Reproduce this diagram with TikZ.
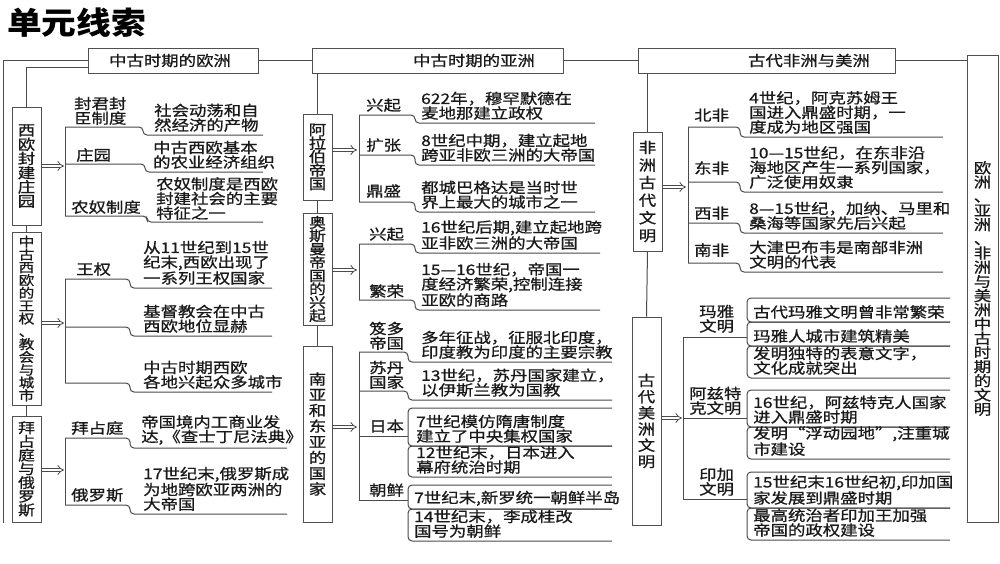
\documentclass[tikz,border=0pt]{standalone}
\usepackage{fontspec}
\setmainfont{Noto Sans CJK SC}[FakeStretch=1.2, FakeBold=0.9]
\newfontfamily\titlefont{Noto Sans CJK SC}[FakeStretch=1.12]
\usetikzlibrary{arrows.meta}
\definecolor{linegray}{HTML}{4A4A4A}
\definecolor{boxgray}{HTML}{505050}
\definecolor{inkgray}{HTML}{1A1A1A}
\tikzset{
    link/.style={draw=linegray, line width=1pt},
    bracket/.style={link, rounded corners=4pt},
    colbox/.style 2 args={draw=boxgray, fill=white, line width=1pt, minimum width=29pt, inner sep=0pt, align=center, text=inkgray, font=\fontsize{#1}{#2}\selectfont},
    titlebox/.style={draw=boxgray, fill=white, line width=1pt, minimum height=25pt, inner sep=0pt},
    titletext/.style={inner sep=0pt, text=inkgray, font=\fontsize{14.5}{15}\selectfont},
    itemlbl/.style={anchor=south west, inner sep=1pt, align=left, text=inkgray, font=\fontsize{14.5}{14.6}\selectfont},
    itemtxt/.style={itemlbl},
    dblarrow/.style={draw=linegray, double=white, double distance=2.6pt, line width=0.8pt, -{Implies}}
}

\begin{document}
\begin{tikzpicture}[x=1pt, y=-1pt]
        \useasboundingbox (0,0) rectangle (1000,563);

        % -----------------------------------------------------------------
        % TITOLO E RIGHE DI TESTA
        % -----------------------------------------------------------------
        \node[anchor=west, inner sep=0pt, text=black, font=\titlefont\bfseries\fontsize{31}{31}\selectfont] (title) at (7,23) {单元线索};

        \node[titlebox, minimum width=170pt] (euT) at (173,60.5) {};
        \node[titletext] (euTt) at (170,60.5) {中古时期的欧洲};
        \node[titlebox, minimum width=251pt] (asT) at (437.5,60.5) {};
        \node[titletext] (asTt) at (474,60.5) {中古时期的亚洲};
        \node[titlebox, minimum width=257pt] (afT) at (766.5,60.5) {};
        \node[titletext] (afTt) at (809,60.5) {古代非洲与美洲};

        \node[colbox={14.5}{14.2}, minimum width=31pt, minimum height=467pt] (endB) at (982.5,288.5) {欧\\洲\\、\\亚\\洲\\、\\非\\洲\\与\\美\\洲\\中\\古\\时\\期\\的\\文\\明};

        \draw[link] (3,523) -- (3,60.5) -- (euT.west);
        \draw[link] (euT.east) -- (asT.west);
        \draw[link] (asT.east) -- (afT.west);
        \draw[link] (afT.east) -- (afT.east -| endB.west);

        % -----------------------------------------------------------------
        % EUROPA
        % -----------------------------------------------------------------
        \node[colbox={14.5}{14.2}, minimum height=118pt] (euA) at (26.5,166) {西\\欧\\封\\建\\庄\\园};
        \node[colbox={13}{12.8}, minimum height=173pt] (euB) at (26.5,318.5) {中\\古\\西\\欧\\的\\王\\权\\、\\教\\会\\与\\城\\市};
        \node[colbox={14}{13.7}, minimum height=106pt] (euC) at (26.5,469) {拜\\占\\庭\\与\\俄\\罗\\斯};

        \draw[link] (euT.west) ++(0,6.5) -| (euA.north);
        \draw[link] (euA.south) -- (euB.north);
        \draw[link] (euB.south) -- (euC.north);

        \coordinate (euAk) at (64,166);
        \coordinate (euBk) at (64,323);
        \coordinate (euCk) at (64,470);
        \draw[dblarrow] (euA.east |- euAk) -- (euAk);
        \draw[dblarrow] (euB.east |- euBk) -- (euBk);
        \draw[dblarrow] (euC.east |- euCk) -- (euCk);

        \draw[link] (65,127) -- (65,216);
        \foreach \ya/\xc/\yb in {127/143/135, 164/145/172, 216/147/222}
            \draw[bracket] (65,\ya) -- (\xc,\ya) -- (\xc,\yb) -- (263,\yb);
        \draw[link] (65,279) -- (65,383);
        \foreach \ya/\yb in {279/288, 327/336, 383/392}
            \draw[bracket] (65,\ya) -- (130,\ya) -- (130,\yb) -- (272,\yb);
        \draw[link] (65,438) -- (65,505);
        \foreach \ya/\yb in {438/448, 505/514}
            \draw[bracket] (65,\ya) -- (130,\ya) -- (130,\yb) -- (287,\yb);

        \node[itemlbl] (euL1) at (73,126) {封君封\\臣制度};
        \node[itemtxt] (euD1) at (153,133) {社会动荡和自\\然经济的产物};
        \node[itemlbl] (euL2) at (75,163) {庄园};
        \node[itemtxt] (euD2) at (152,170) {中古西欧基本\\的农业经济组织};
        \node[itemlbl] (euL3) at (70,215) {农奴制度};
        \node[itemtxt] (euD3) at (155,221) {农奴制度是西欧\\封建社会的主要\\特征之一};
        \node[itemlbl] (euL4) at (75,277) {王权};
        \node[itemtxt] (euD4) at (142,286) {从11世纪到15世\\纪末,西欧出现了\\一系列王权国家};
        \node[itemtxt] (euD5) at (142,334) {基督教会在中古\\西欧地位显赫};
        \node[itemtxt] (euD6) at (142,390) {中古时期西欧\\各地兴起众多城市};
        \node[itemlbl] (euL7) at (70,436) {拜占庭};
        \node[itemtxt] (euD7) at (140,446) {帝国境内工商业发\\达,《查士丁尼法典》};
        \node[itemlbl] (euL8) at (70,503) {俄罗斯};
        \node[itemtxt] (euD8) at (142,512) {17世纪末,俄罗斯成\\为地跨欧亚两洲的\\大帝国};

        % -----------------------------------------------------------------
        % ASIA
        % -----------------------------------------------------------------
        \node[colbox={14.5}{13.5}, minimum height=86pt] (asA) at (317.5,157) {阿\\拉\\伯\\帝\\国};
        \node[colbox={14}{13.3}, minimum height=112pt] (asB) at (317.5,269) {奥\\斯\\曼\\帝\\国\\的\\兴\\起};
        \node[colbox={14.5}{15.7}, minimum height=176pt] (asC) at (317.5,434) {南\\亚\\和\\东\\亚\\的\\国\\家};

        \draw[link] (asA.north |- asT.south) -- (asA.north);
        \draw[link] (asA.south) -- (asB.north);
        \draw[link] (asB.south) -- (asC.north);

        \coordinate (asAk) at (357,150);
        \coordinate (asBk) at (357,270);
        \coordinate (asCk) at (357,427);
        \draw[dblarrow] (asA.east |- asAk) -- (asAk);
        \draw[dblarrow] (asB.east |- asBk) -- (asBk);
        \draw[dblarrow] (asC.east |- asCk) -- (asCk);

        \draw[link] (359,115) -- (359,202);
        \foreach \ya/\yb in {115/123, 155/165, 202/212}
            \draw[bracket] (359,\ya) -- (415,\ya) -- (415,\yb) -- (595,\yb);
        \draw[link] (359,244) -- (359,300);
        \foreach \ya/\yb in {244/253, 300/310}
            \draw[bracket] (359,\ya) -- (415,\ya) -- (415,\yb) -- (600,\yb);
        \draw[link] (359,352) -- (359,500);
        \foreach \ya/\yb in {352/362, 391/400}
            \draw[bracket] (359,\ya) -- (408,\ya) -- (408,\yb) -- (612,\yb);
        \draw[link] (359,436) -- (408,436);
        \draw[link] (359,500) -- (408,500);
        \foreach \ya/\yb in {408/446, 446/477, 485/509, 509/541}
            \draw[bracket] (612,\ya) -- (408,\ya) -- (408,\yb) -- (612,\yb);

        \node[itemlbl] (asL1) at (365,113) {兴起};
        \node[itemtxt] (asD1) at (420,121) {622年，穆罕默德在\\麦地那建立政权};
        \node[itemlbl] (asL2) at (365,153) {扩张};
        \node[itemtxt] (asD2) at (420,163) {8世纪中期，建立起地\\跨亚非欧三洲的大帝国};
        \node[itemlbl] (asL3) at (365,199) {鼎盛};
        \node[itemtxt] (asD3) at (420,210) {都城巴格达是当时世\\界上最大的城市之一};
        \node[itemlbl] (asL4) at (368,242) {兴起};
        \node[itemtxt] (asD4) at (420,251) {16世纪后期,建立起地跨\\亚非欧三洲的大帝国};
        \node[itemlbl] (asL5) at (368,299) {繁荣};
        \node[itemtxt] (asD5) at (420,308) {15—16世纪，帝国一\\度经济繁荣,控制连接\\亚欧的商路};
        \node[itemlbl] (asL6) at (368,351) {笈多\\帝国};
        \node[itemtxt] (asD6) at (420,360) {多年征战，征服北印度，\\印度教为印度的主要宗教};
        \node[itemlbl] (asL7) at (368,390) {苏丹\\国家};
        \node[itemtxt] (asD7) at (420,398) {13世纪，苏丹国家建立，\\以伊斯兰教为国教};
        \node[itemlbl] (asL8) at (368,434) {日本};
        \node[itemtxt] (asD8) at (415,444) {7世纪模仿隋唐制度\\建立了中央集权国家};
        \node[itemtxt] (asD9) at (415,475) {12世纪末，日本进入\\幕府统治时期};
        \node[itemlbl] (asL10) at (368,498) {朝鲜};
        \node[itemtxt] (asD10) at (413,507) {7世纪末,新罗统一朝鲜半岛};
        \node[itemtxt] (asD11) at (413,539) {14世纪末，李成桂改\\国号为朝鲜};

        % -----------------------------------------------------------------
        % AFRICA E AMERICA
        % -----------------------------------------------------------------
        \node[colbox={14.5}{17.6}, minimum height=119pt] (afA) at (647.5,191.5) {非\\洲\\古\\代\\文\\明};
        \node[colbox={14.5}{16.2}, minimum height=208pt] (afB) at (646.5,421) {古\\代\\美\\洲\\文\\明};

        \draw[link] (afA.north |- afT.south) -- (afA.north);
        \draw[link] (afA.south) -- (afB.north);

        \coordinate (afAk) at (686,187);
        \coordinate (afBk) at (682,418);
        \draw[dblarrow] (afA.east |- afAk) -- (afAk);
        \draw[dblarrow] (afB.east |- afBk) -- (afBk);

        \draw[link] (688,127) -- (688,263);
        \foreach \ya/\yb in {127/137, 182/192, 223/233, 263/272}
            \draw[bracket] (688,\ya) -- (740,\ya) -- (740,\yb) -- (943,\yb);
        \draw[link] (683,337) -- (683,499);
        \foreach \ya in {337, 418, 499}
            \draw[link] (683,\ya) -- (747,\ya);
        \foreach \ya/\yb in {298/322, 322/346, 346/378, 390/427, 427/459, 472/508, 508/540}
            \draw[bracket] (950,\ya) -- (747,\ya) -- (747,\yb) -- (950,\yb);

        \node[itemlbl] (afL1) at (693,123) {北非};
        \node[itemtxt] (afD1) at (748,135) {4世纪，阿克苏姆王\\国进入鼎盛时期，一\\度成为地区强国};
        \node[itemlbl] (afL2) at (693,176) {东非};
        \node[itemtxt] (afD2) at (748,190) {10—15世纪，在东非沿\\海地区产生一系列国家，\\广泛使用奴隶};
        \node[itemlbl] (afL3) at (693,221) {西非};
        \node[itemtxt] (afD3) at (748,231) {8—15世纪，加纳、马里和\\桑海等国家先后兴起};
        \node[itemlbl] (afL4) at (693,258) {南非};
        \node[itemtxt] (afD4) at (748,270) {大津巴布韦是南部非洲\\文明的代表};

        \node[itemlbl] (amL1) at (698,334) {玛雅\\文明};
        \node[itemtxt] (amD1) at (752,320) {古代玛雅文明曾非常繁荣};
        \node[itemtxt] (amD2) at (752,344) {玛雅人城市建筑精美};
        \node[itemtxt] (amD3) at (752,376) {发明独特的表意文字，\\文化成就突出};
        \node[itemlbl] (amL2) at (688,416) {阿兹特\\克文明};
        \node[itemtxt] (amD4) at (752,425) {16世纪，阿兹特克人国家\\进入鼎盛时期};
        \node[itemtxt] (amD5) at (752,457) {发明“浮动园地”,注重城\\市建设};
        \node[itemlbl] (amL3) at (698,497) {印加\\文明};
        \node[itemtxt] (amD6) at (752,506) {15世纪末16世纪初,印加国\\家发展到鼎盛时期};
        \node[itemtxt] (amD7) at (752,538) {最高统治者印加王加强\\帝国的政权建设};

    \end{tikzpicture}
\end{document}
